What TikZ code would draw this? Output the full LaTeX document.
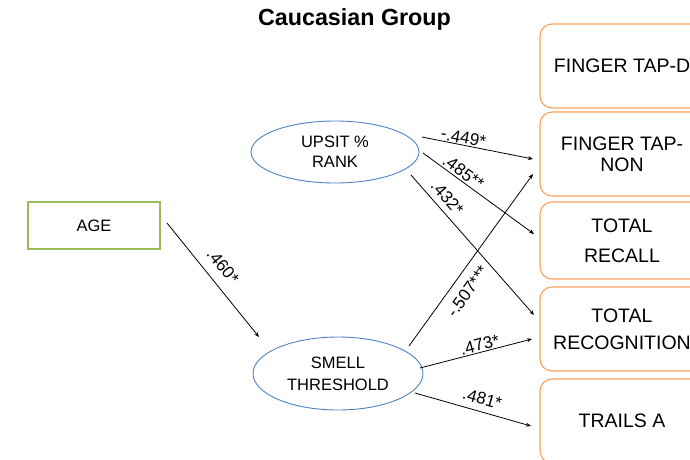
\documentclass[tikz,border=0pt]{standalone}
\usepackage{fontspec}
\setmainfont{Liberation Sans}
\usetikzlibrary{shapes.geometric,arrows.meta,calc}

\definecolor{agegreen}{RGB}{155,187,89}
\definecolor{ellblue}{RGB}{79,129,189}
\definecolor{outorange}{RGB}{247,160,90}

\tikzset{
  predictor/.style={draw=agegreen, line width=1.3pt, minimum width=132pt,
    minimum height=47pt, inner sep=0pt, font=\fontsize{16.5}{20}\selectfont},
  latent/.style={ellipse, draw=ellblue, line width=0.9pt, minimum width=168pt,
    minimum height=62pt, inner sep=0pt, align=center},
  outcome/.style={draw=outorange, line width=1.1pt, rounded corners=12pt,
    minimum width=164pt, inner sep=0pt, align=center,
    font=\fontsize{19.5}{21}\selectfont},
  path/.style={draw=black, line width=0.8pt, -{Stealth[length=5pt,width=4pt]}},
  coef/.style={sloped, inner sep=0pt, font=\fontsize{17}{19}\selectfont}
}

\begin{document}
\begin{tikzpicture}[x=1pt, y=-1pt]
  \useasboundingbox (0,0) rectangle (690,459);

  % heading
  \node (title) at (354.5,19.5) {\fontsize{23.3}{25}\selectfont\bfseries Caucasian Group};

  % predictors
  \node[predictor] (age) at (94,225.5) {AGE};
  \node[latent, font=\fontsize{16.5}{20}\selectfont] (upsit) at (335,152) {UPSIT \%\\RANK};
  \node[latent, minimum width=170pt, minimum height=73pt,
        font=\fontsize{16.5}{22}\selectfont] (smell) at (338,373.5) {SMELL\\THRESHOLD};

  % outcome measures
  \node[outcome, minimum height=84pt] (ftd) at (622,66) {FINGER TAP-D};
  \node[outcome, minimum height=84pt] (ftn) at (622,154)
       {FINGER TAP-\\[0pt]NON};
  \node[outcome, minimum height=77pt] (tr) at (622,240.5)
       {TOTAL\\[9pt]RECALL};
  \node[outcome, minimum height=84pt] (trg) at (622,329)
       {TOTAL\\[6pt]RECOGNITION};
  \node[outcome, minimum height=84pt] (ta) at (622,421) {TRAILS A};

  % paths
  \draw[path] ($(age)+(73,-2.5)$) -- ($(smell)+(-79,-36.5)$)
     node[coef, pos=0.47, above=10pt] {.460*};

  \draw[path] ($(upsit)+(87,-15)$) -- ($(ftn)+(-89,5)$)
     node[coef, pos=0.36, above=1pt] {-.449*};
  \draw[path] ($(upsit)+(88,1)$) -- ($(tr)+(-88,-6.5)$)
     node[coef, pos=0.32, above=2pt] {.485**};
  \draw[path] ($(upsit)+(76,23)$) -- ($(trg)+(-88,-14)$)
     node[coef, pos=0.22, above=6pt] {.432*};

  \draw[path] ($(smell)+(71,-27.5)$) -- ($(ftn)+(-89,20)$)
     node[coef, pos=0.37, below=9pt] {-.507***};
  \draw[path] ($(smell)+(82,-5.5)$) -- ($(trg)+(-90,10)$)
     node[coef, pos=0.55, above=1pt] {.473*};
  \draw[path] ($(smell)+(77,19.5)$) -- ($(ta)+(-91,5)$)
     node[coef, pos=0.55, above=6.5pt] {.481*};
\end{tikzpicture}
\end{document}
